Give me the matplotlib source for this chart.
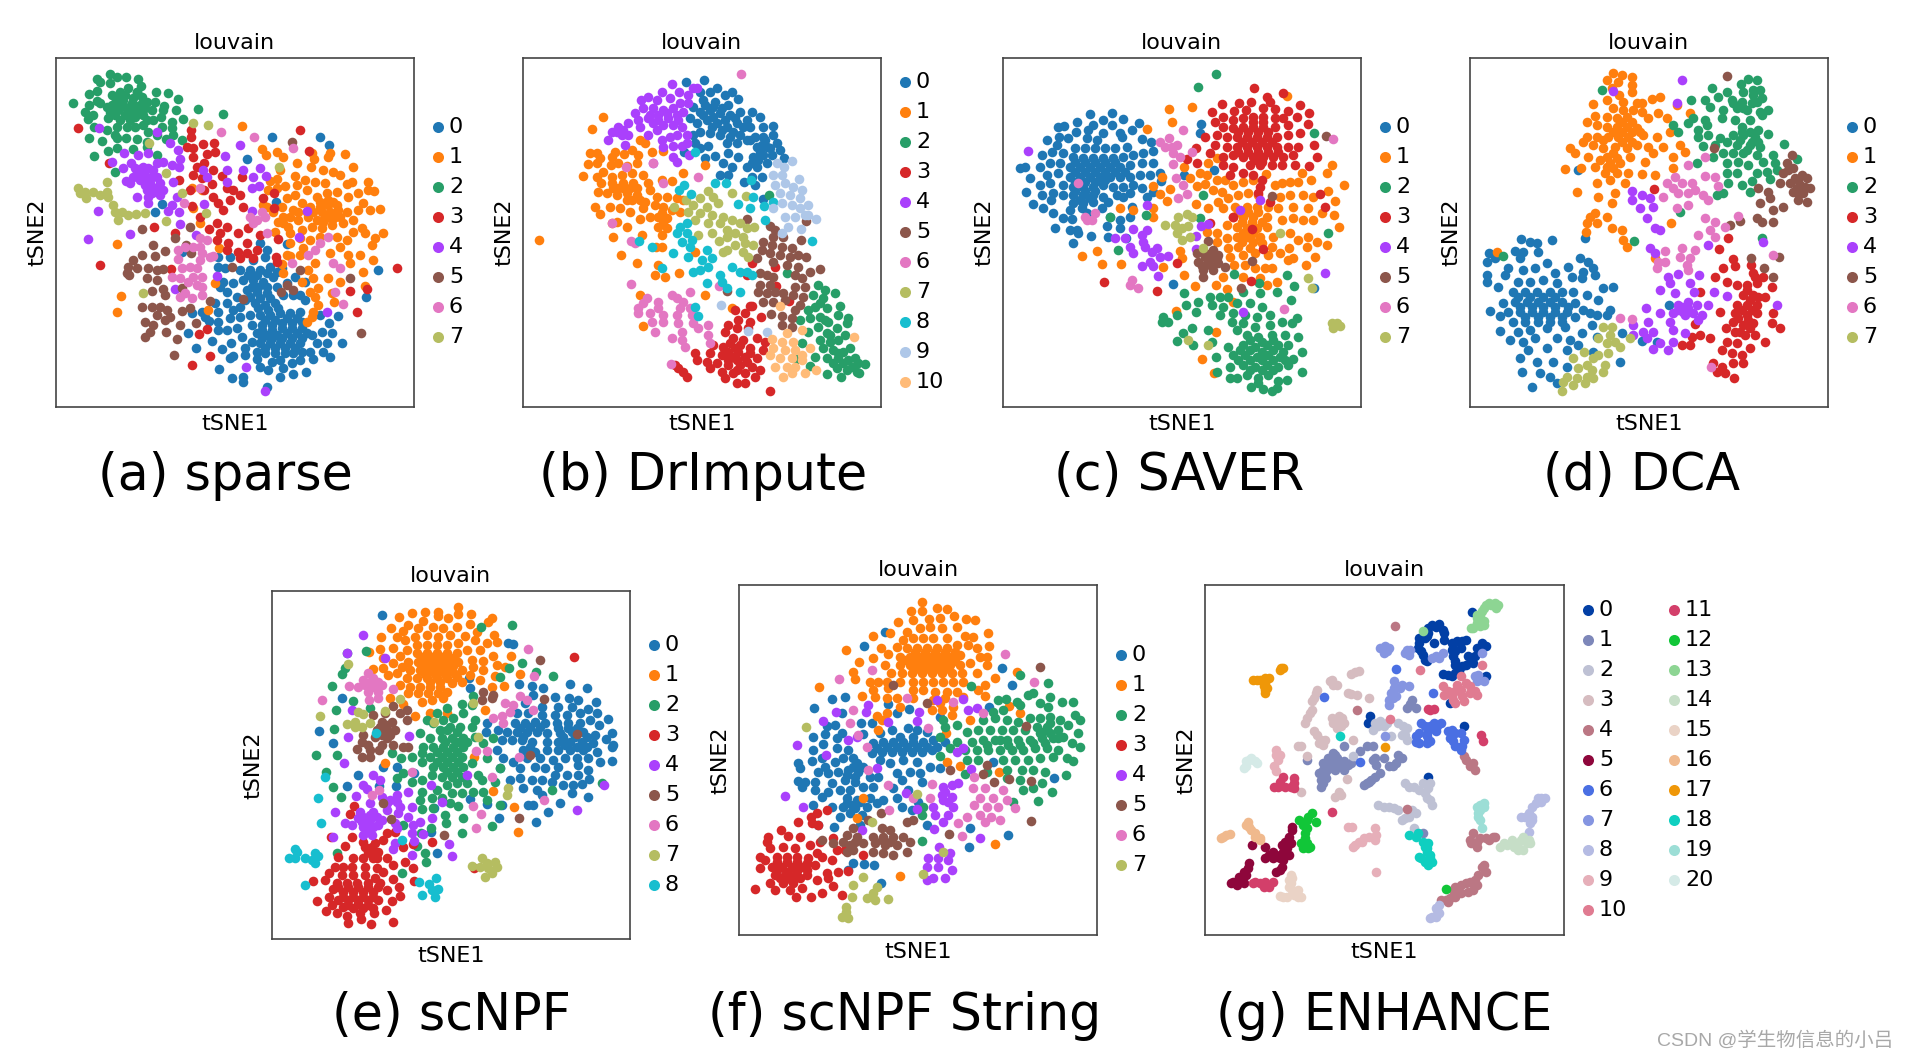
import matplotlib
matplotlib.use("Agg")
import matplotlib.pyplot as plt

W, H = 1907, 1059

vega = ["#1f77b4", "#ff7f0e", "#279e68", "#d62728", "#aa40fc", "#8c564b",
        "#e377c2", "#b5bd61", "#17becf", "#aec7e8", "#ffbb78"]
zeileis = ["#023fa5", "#7d87b9", "#bec1d4", "#d6bcc0", "#bb7784", "#8e063b", "#4a6fe3",
           "#8595e1", "#b5bbe3", "#e6afb9", "#e07b91", "#d33f6a", "#11c638", "#8dd593",
           "#c6dec7", "#ead3c6", "#f0b98d", "#ef9708", "#0fcfc0", "#9cded6", "#d5eae7"]

captions = ["(a) sparse", "(b) DrImpute", "(c) SAVER", "(d) DCA", "(e) scNPF", "(f) scNPF String", "(g) ENHANCE"]

# points, each panel in its own reading scale
A0 = [(815,350),(960,351),(987,375),(742,418),(827,545),(485,551),(466,575),(545,695),(1135,750),(1098,830),(800,1100),(730,1085),(697,1075),(730,1070),(658,1047),(690,1015),(700,1008),(665,988),(637,963),(565,940),(587,985),(627,902),(577,880),(605,875),(615,890),(655,905),(655,930),(645,848),(655,875),(680,850),(700,870),(690,895),(720,860),(720,890),(680,930),(710,925),(692,970),(725,950),(735,985),(735,1005),(770,1018),(780,1040),(815,1027),(840,1020),(850,1043),(875,1030),(900,1020),(918,1055),(880,1062),(840,1070),(805,1050),(938,1018),(968,997),(990,1012),(1025,970),(980,968),(965,935),(995,938),(988,908),(1015,888),(960,885),(935,945),(950,968),(930,997),(905,995),(880,1000),(855,1000),(825,1000),(795,1000),(770,995),(755,965),(780,970),(810,970),(840,970),(870,970),(900,970),(920,940),(890,940),(860,940),(830,945),(800,945),(770,940),(755,915),(785,915),(815,915),(845,910),(875,910),(905,905),(900,875),(870,880),(840,880),(810,885),(780,885),(750,885),(735,840),(765,850),(795,855),(825,850),(850,825),(880,825),(915,840),(900,825),(885,770),(915,785),(860,790),(830,800),(800,820),(770,815),(740,810),(710,830),(680,815),(660,800),(670,785),(700,790),(730,780),(760,780),(790,785),(820,770),(845,745),(810,740),(780,750),(750,750),(720,750),(690,710),(655,712),(655,740),(675,745),(760,720),(780,670),(800,690),(795,710),(862,672)]
A0 += [(785,930),(815,930),(845,925),(875,925),(905,925),(785,955),(815,955),(845,955),(875,955),(905,955),(795,985),(825,985),(855,985),(885,985),(795,900),(825,900),(860,895),(890,895),(755,800),(775,800),(800,800),(750,830),(780,835),(810,835),(775,865),(805,870),(835,865),(745,765),(770,765),(800,760),(830,755)]
A1 = [(727,317),(785,387),(798,405),(830,397),(848,410),(892,428),(935,400),(942,418),(990,400),(985,412),(1035,403),(1060,440),(1000,457),(968,450),(932,442),(885,468),(840,450),(830,478),(810,483),(803,510),(830,505),(855,497),(890,495),(915,480),(945,485),(975,490),(1020,465),(1055,487),(1040,493),(1105,487),(1105,510),(1122,513),(1075,520),(1090,548),(1140,567),(1110,570),(1075,570),(1045,530),(1010,515),(980,520),(950,530),(920,510),(885,525),(860,535),(845,560),(820,575),(850,590),(880,570),(905,550),(930,560),(960,560),(985,555),(1015,570),(1005,590),(975,590),(950,600),(925,590),(895,600),(865,620),(835,605),(825,635),(870,640),(905,630),(935,620),(965,625),(995,615),(1030,610),(1060,600),(1085,625),(1060,635),(1150,640),(1125,655),(1115,675),(1095,640),(1040,660),(1010,650),(1020,680),(1045,705),(1080,705),(1120,720),(1090,755),(990,700),(960,650),(930,660),(900,655),(870,670),(910,685),(860,705),(900,705),(945,730),(925,750),(940,775),(985,775),(1020,785),(1050,730),(1095,797),(955,805),(930,815),(945,830),(995,820),(1003,845),(955,855),(940,875),(935,890),(920,905),(907,785),(847,733),(870,707),(850,760),(790,555),(800,560),(657,685),(645,790),(580,565),(600,610),(575,505),(605,510),(350,672),(363,828),(351,877),(625,870)]
A1 += [(960,545),(985,540),(1000,545),(940,575),(965,575),(990,575),(1010,555),(970,605),(995,600),(1020,590),(1040,575),(920,575),(895,575),(870,590),(850,610)]
A2 = [(218,250),(292,177),(330,162),(379,170),(413,177),(300,185),(268,223),(292,213),(330,190),(352,172),(424,198),(468,217),(504,219),(535,237),(465,245),(492,258),(528,271),(548,298),(515,307),(484,292),(489,270),(593,267),(668,283),(255,277),(266,256),(290,243),(278,285),(265,297),(281,322),(267,355),(307,363),(325,392),(283,407),(350,355),(351,383),(378,355),(398,388),(412,357),(440,365),(470,345),(487,322),(515,325),(519,346),(497,357),(545,360),(443,335),(430,315),(458,300),(350,320),(320,330),(345,250),(320,260),(370,240),(395,265),(420,255),(440,245),(335,225),(360,215),(385,205),(410,215),(300,250),(345,285),(375,285),(405,290),(430,285),(455,270),(325,295),(380,320),(405,320),(345,345),(345,455),(470,405),(440,380),(412,215)]
A2 += [(335,255),(355,260),(375,260),(395,250),(415,270),(435,265),(350,235),(375,225),(400,235),(425,230),(330,275),(355,270),(385,275),(410,275),(440,300),(360,300),(390,300)]
A3 = [(234,325),(327,428),(301,735),(512,748),(462,622),(525,640),(572,330),(572,352),(560,380),(580,385),(610,373),(642,370),(578,410),(620,402),(645,395),(590,440),(612,430),(640,450),(665,467),(725,472),(580,465),(537,480),(605,475),(635,492),(570,510),(612,510),(680,505),(700,510),(720,525),(640,530),(655,550),(670,570),(690,540),(730,560),(650,610),(600,590),(628,628),(660,640),(680,620),(715,640),(745,625),(780,645),(650,660),(685,670),(740,670),(715,695),(740,700),(770,690),(760,715),(720,715),(680,690),(790,535),(823,519),(822,565),(835,657),(828,712),(832,725),(597,942),(620,927),(575,1035),(630,1008),(901,330),(928,393),(1049,814),(1100,807),(1070,875),(1192,743),(575,558)]
A4 = [(296,325),(472,335),(510,370),(535,390),(372,398),(335,425),(370,445),(392,430),(415,405),(445,400),(470,430),(490,425),(515,435),(540,418),(538,442),(430,440),(410,460),(440,470),(460,450),(420,480),(450,490),(480,490),(400,470),(378,482),(390,490),(490,510),(480,525),(440,510),(445,530),(410,530),(445,550),(520,487),(530,530),(515,555),(505,572),(538,575),(293,573),(540,612),(391,642),(265,657),(612,553),(620,470),(610,450),(680,487),(680,450),(720,375),(675,408),(730,450),(780,445),(798,468),(758,472),(778,497),(755,505),(757,573),(587,645),(524,808),(650,768),(795,1112),(737,1042),(920,572),(897,650),(980,875)]
A4 += [(425,445),(445,445),(455,470),(430,465),(415,470),(470,470),(465,505),(455,520),(435,495),(405,445)]
A5 = [(875,367),(427,627),(571,622),(460,675),(427,705),(495,693),(465,708),(400,720),(385,740),(410,745),(380,760),(445,745),(470,750),(490,748),(440,775),(470,780),(388,765),(490,808),(455,812),(495,825),(545,803),(427,862),(455,860),(480,860),(470,885),(500,870),(510,890),(435,907),(460,915),(495,900),(450,935),(435,952),(497,935),(541,915),(530,958),(523,1004),(545,873),(570,865),(587,910),(630,843),(730,838),(697,742),(558,675),(572,700),(842,815),(860,795),(878,810),(900,750),(1049,775),(1083,940),(525,655)]
A6 = [(663,335),(763,352),(880,383),(750,590),(770,600),(795,590),(785,575),(760,610),(800,640),(640,708),(600,655),(620,660),(600,680),(605,700),(630,710),(580,680),(600,720),(570,740),(545,745),(535,718),(590,745),(580,770),(605,770),(565,785),(590,795),(605,800),(540,775),(515,772),(540,830),(555,820),(575,835),(607,825),(600,505),(552,550),(875,730),(960,670),(945,690),(925,705),(985,650),(1000,730),(1020,745),(1006,816),(1030,853),(555,680),(535,690)]
A7 = [(235,505),(240,520),(255,515),(258,535),(280,517),(300,525),(320,515),(325,530),(320,485),(340,555),(345,575),(365,575),(355,600),(385,585),(407,582),(435,580),(498,460),(545,520),(498,603),(580,310),(625,315),(430,820),(838,442),(618,580),(448,368)]

B0 = [(617,186),(672,179),(711,205),(755,215),(775,237),(735,225),(690,215),(660,215),(640,260),(670,240),(705,245),(745,255),(630,295),(660,275),(690,270),(720,280),(750,285),(780,275),(815,275),(840,290),(800,300),(770,310),(740,320),(710,310),(680,300),(650,310),(660,335),(640,345),(690,340),(720,345),(750,350),(780,345),(810,320),(850,320),(878,317),(880,345),(850,350),(825,350),(800,360),(770,370),(740,370),(645,370),(660,385),(685,378),(613,396),(743,400),(775,410),(705,408),(675,413),(730,430),(755,440),(720,465),(745,465),(830,380),(860,380),(890,370),(900,390),(875,405),(850,405),(820,410),(800,440),(830,440),(860,430),(815,470),(845,470),(850,537),(792,487),(825,495),(911,413),(810,360)]
B0 += [(675,255),(700,260),(725,265),(670,285),(700,290),(735,300),(765,295),(790,320),(695,320),(725,330),(760,335),(845,375),(840,395),(835,420),(870,385),(815,430),(855,360)]
B1 = [(368,291),(337,327),(330,400),(350,400),(360,415),(325,433),(350,430),(405,395),(395,410),(433,402),(480,360),(495,370),(455,390),(475,405),(515,395),(550,393),(392,435),(415,430),(440,437),(470,430),(310,467),(350,472),(368,455),(395,470),(425,465),(455,460),(490,465),(363,490),(395,490),(430,490),(460,490),(505,490),(545,480),(575,483),(610,460),(510,510),(354,516),(380,520),(410,525),(440,520),(470,525),(495,545),(530,530),(560,530),(590,535),(610,540),(345,560),(390,562),(420,565),(450,575),(490,565),(360,582),(525,555),(550,560),(575,570),(600,575),(535,590),(560,595),(510,590),(480,597),(410,605),(395,610),(440,620),(535,620),(560,625),(545,645),(400,650),(485,645),(528,680),(545,680),(423,706),(470,730),(533,735),(525,765),(555,770),(598,758),(645,695),(480,826),(675,826),(490,917),(178,660),(675,435),(755,863)]
B1 += [(430,505),(450,505),(470,505),(415,505),(455,540),(480,540),(440,540),(550,610),(545,580),(400,505)]
B2 = [(868,524),(920,760),(1015,795),(1035,810),(1000,825),(1065,820),(1030,835),(1080,858),(1005,860),(1040,865),(1075,885),(985,870),(960,900),(990,895),(1020,890),(1105,895),(1100,910),(1045,905),(1015,920),(985,935),(1040,940),(1070,925),(1095,945),(965,970),(1020,960),(1050,965),(1075,960),(1110,985),(1030,985),(1060,990),(1090,995),(1125,1015),(1005,1012),(1040,1015),(1075,1015),(1105,1020),(1135,1030),(1155,1032),(950,1018),(990,1038),(1070,1045),(1100,1050),(1130,1055),(1042,1062),(1082,1070),(1137,1060)]
B2 += [(1075,1000),(1060,1030),(1090,1030),(1115,1040),(1050,945),(1035,900),(1020,850)]
B3 = [(815,857),(843,890),(795,880),(765,870),(775,900),(810,905),(745,915),(770,925),(805,925),(735,935),(760,955),(790,960),(830,955),(855,965),(700,975),(730,980),(765,985),(810,985),(850,990),(645,998),(690,1000),(725,1005),(760,1010),(795,1010),(830,1015),(650,1020),(680,1025),(710,1030),(745,1035),(780,1035),(815,1040),(840,1050),(690,1045),(725,1055),(760,1060),(795,1060),(825,1070),(735,1075),(770,1090),(795,1090),(595,1043),(610,1055),(620,1070),(870,1112),(815,730),(885,742),(800,765),(887,798),(926,843),(810,857),(585,1035)]
B3 += [(745,1020),(770,1020),(800,1025),(745,995),(775,995),(750,970),(780,975),(810,1000),(770,1050)]
B4 = [(575,192),(545,215),(597,215),(640,205),(625,225),(650,205),(505,230),(483,240),(530,240),(570,235),(600,250),(465,278),(490,265),(520,265),(550,270),(580,265),(610,275),(625,250),(445,308),(475,300),(505,295),(535,300),(565,295),(595,300),(605,320),(415,320),(395,335),(425,345),(385,360),(445,345),(505,345),(480,320),(530,330),(570,350),(590,345),(620,345),(545,360),(550,380),(580,378),(605,378),(435,375),(620,370),(580,410),(590,425),(520,430),(628,405)]
B4 += [(510,285),(535,285),(560,280),(590,285),(520,310),(550,315),(580,315),(410,335),(430,330)]
B5 = [(800,597),(978,604),(870,617),(885,630),(880,650),(910,650),(963,661),(850,665),(875,675),(905,680),(935,685),(845,690),(870,700),(900,705),(930,710),(955,705),(978,712),(830,715),(880,725),(920,735),(1019,747),(840,760),(860,765),(880,770),(955,740),(990,757),(945,765),(965,775),(840,795),(870,795),(885,815),(910,820),(945,800),(975,800),(940,825),(970,830),(860,820),(835,815),(850,845),(880,845),(915,840),(960,855),(945,870),(873,883),(905,887),(935,893),(905,915),(935,920),(741,812)]
B6 = [(783,161),(437,440),(520,428),(653,470),(550,490),(397,609),(453,664),(465,670),(453,791),(717,798),(630,815),(575,825),(500,835),(535,845),(590,835),(610,845),(490,850),(475,865),(535,865),(600,865),(630,865),(475,880),(510,880),(550,885),(590,885),(635,885),(515,905),(550,905),(595,910),(640,910),(525,935),(685,915),(655,925),(605,935),(685,945),(575,955),(605,960),(690,968),(615,980),(572,1032)]
B7 = [(582,560),(618,540),(685,513),(757,520),(797,528),(660,535),(700,530),(640,555),(680,560),(715,550),(625,575),(660,580),(695,585),(730,590),(645,600),(685,610),(720,610),(755,600),(780,610),(800,625),(822,622),(740,630),(765,640),(790,650),(653,645),(695,640),(718,663),(740,650),(765,675),(795,670),(820,675),(740,690),(730,695),(790,695),(803,710)]
B8 = [(706,488),(737,490),(613,495),(597,510),(632,522),(820,530),(880,545),(775,553),(810,565),(852,558),(855,600),(600,620),(620,610),(590,640),(620,640),(605,665),(635,660),(630,680),(477,662),(515,680),(580,700),(625,710),(680,690),(665,720),(695,715),(685,740),(755,740),(780,755),(800,755),(815,765),(640,755),(660,750),(545,745),(720,765),(680,790),(725,785),(742,805),(780,817),(645,860),(655,888),(995,663),(645,395),(812,480)]
B9 = [(890,428),(912,440),(936,422),(880,465),(905,465),(958,478),(885,495),(915,490),(940,500),(965,510),(900,520),(930,525),(960,535),(985,555),(880,565),(905,550),(935,555),(960,565),(985,585),(915,590),(945,590),(1009,598),(925,622),(963,627),(905,640),(722,855),(862,935),(805,934),(975,585)]
B10 = [(920,940),(875,958),(905,965),(940,965),(880,985),(915,990),(945,990),(990,985),(965,1005),(870,1005),(900,1015),(935,1015),(965,1020),(885,1040),(920,1040),(945,1040),(910,1070),(935,1060),(1008,1051),(975,1060),(1122,950),(967,930),(901,858)]

C0 = [(389,282),(455,278),(350,305),(428,300),(490,297),(295,322),(313,317),(400,315),(455,315),(537,310),(348,337),(385,330),(430,340),(480,340),(515,330),(298,350),(325,355),(380,355),(410,360),(485,350),(545,358),(260,360),(290,375),(345,385),(375,385),(405,385),(435,385),(465,385),(500,380),(573,366),(245,405),(275,395),(310,400),(340,410),(370,415),(400,415),(430,415),(460,415),(490,410),(520,405),(550,400),(580,392),(180,443),(195,441),(240,440),(270,430),(300,430),(330,440),(360,440),(390,440),(420,440),(450,440),(480,440),(510,435),(545,430),(580,430),(210,475),(260,465),(295,460),(330,470),(360,470),(390,470),(420,470),(450,470),(480,470),(510,470),(540,465),(570,465),(600,460),(240,495),(270,490),(310,495),(340,500),(370,500),(400,500),(430,495),(460,500),(490,500),(520,495),(545,505),(603,482),(199,516),(245,525),(280,520),(310,525),(340,525),(370,525),(400,525),(430,530),(470,525),(510,520),(580,517),(272,540),(218,552),(340,550),(370,550),(400,545),(445,545),(490,530),(560,530),(250,565),(280,580),(330,570),(365,565),(380,580),(425,565),(515,560),(310,595),(337,598),(450,590),(510,592),(480,600),(440,617),(285,625),(330,630),(350,630),(480,625),(355,640),(393,648),(443,650),(497,655),(338,669),(722,311),(721,339),(672,466),(762,449),(640,792),(1063,805)]
C0 += [(345,425),(375,425),(405,425),(435,425),(465,425),(345,455),(375,455),(405,455),(435,455),(465,455),(495,455),(345,485),(375,485),(405,485),(435,480),(345,512),(375,512),(405,512),(360,540),(390,535)]
C1 = [(561,328),(628,267),(696,262),(637,305),(982,228),(605,470),(580,497),(630,507),(600,522),(622,542),(580,565),(578,592),(672,441),(690,475),(720,458),(742,465),(745,428),(771,413),(710,498),(735,493),(770,480),(795,480),(917,463),(760,510),(785,515),(820,495),(850,485),(880,480),(1115,434),(1100,460),(1052,480),(1027,460),(990,485),(1015,485),(1153,495),(945,495),(965,490),(1105,512),(775,545),(805,535),(835,525),(865,520),(895,525),(960,530),(990,525),(1030,525),(1060,530),(1125,543),(707,551),(745,565),(790,565),(825,560),(860,560),(890,560),(925,560),(955,565),(1000,560),(1045,565),(1085,580),(1123,586),(820,590),(850,590),(880,590),(920,590),(965,600),(1000,595),(1030,600),(1060,600),(1138,621),(740,635),(770,640),(800,615),(830,620),(860,625),(890,625),(920,620),(990,640),(1015,660),(1045,650),(1070,665),(1100,675),(770,665),(800,655),(830,650),(865,650),(900,650),(940,650),(1040,680),(660,692),(805,685),(835,680),(870,685),(905,670),(935,680),(987,685),(1065,710),(665,715),(810,710),(850,705),(885,700),(925,705),(960,700),(1000,715),(985,720),(822,735),(855,735),(885,745),(915,745),(935,745),(1037,735),(672,764),(790,772),(850,772),(900,775),(952,787),(705,798),(767,795),(802,808),(920,795),(610,740),(410,692),(367,709),(425,731),(484,733),(480,565),(518,569),(647,872),(769,935),(727,1017),(763,1058),(820,845)]
C1 += [(835,575),(865,575),(895,575),(845,605),(875,605),(905,605),(850,640),(880,640),(845,665),(880,665)]
C2 = [(767,161),(714,200),(1063,340),(730,525),(557,586),(450,590),(720,595),(1105,640),(473,690),(822,762),(897,788),(982,764),(1003,797),(671,820),(950,817),(993,840),(750,830),(780,830),(805,830),(850,815),(900,818),(757,855),(790,860),(715,845),(678,855),(707,875),(780,885),(830,850),(870,850),(905,860),(820,880),(855,885),(890,890),(930,885),(1010,895),(995,910),(610,890),(650,885),(605,905),(625,905),(815,905),(850,910),(885,920),(930,915),(965,905),(695,925),(670,940),(745,930),(830,930),(860,945),(895,950),(935,945),(975,945),(1015,950),(652,962),(700,975),(755,965),(805,980),(850,975),(885,980),(920,975),(955,975),(985,975),(1025,995),(820,1005),(855,1005),(890,1010),(925,1005),(960,1010),(1000,1018),(767,1012),(810,1040),(850,1035),(885,1040),(920,1035),(955,1040),(985,1035),(1025,1055),(770,1057),(810,1075),(830,1073),(860,1065),(895,1075),(925,1065),(955,1083),(980,1080),(872,1100),(910,1107),(950,1105),(935,1113),(895,1088)]
C2 += [(840,990),(870,990),(905,995),(940,990),(970,995),(835,1020),(870,1020),(905,1020),(940,1020),(975,1020),(870,1050),(905,1050),(940,1050),(870,960),(905,965),(940,960)]
C3 = [(883,205),(921,232),(970,218),(930,245),(787,253),(1020,255),(755,275),(838,250),(872,247),(910,265),(945,268),(985,272),(823,272),(857,270),(1047,280),(790,290),(820,300),(850,295),(880,290),(910,290),(945,295),(970,295),(1010,290),(765,305),(1045,313),(790,320),(820,325),(850,320),(880,320),(910,320),(945,320),(985,315),(1020,340),(735,352),(770,345),(800,350),(830,350),(860,350),(890,350),(920,350),(950,350),(985,345),(1063,375),(765,375),(800,380),(830,380),(860,380),(890,380),(920,380),(950,380),(985,380),(1015,380),(708,385),(750,400),(790,410),(820,405),(850,410),(880,410),(910,410),(940,410),(970,410),(1000,405),(1072,412),(712,428),(790,435),(820,440),(870,435),(900,435),(935,435),(965,435),(1005,435),(1047,437),(680,418),(810,465),(850,460),(880,465),(905,480),(900,500),(895,520),(930,545),(1080,521),(1095,561),(820,590),(750,608),(875,627),(910,688),(650,730),(432,787),(592,813),(873,782)]
C3 += [(835,335),(865,335),(895,335),(925,335),(845,365),(875,365),(905,365),(935,365),(835,395),(865,395),(895,395),(925,395),(955,395),(905,425),(885,420),(880,305),(910,305)]
C4 = [(205,394),(560,555),(840,570),(745,612),(722,617),(707,648),(520,628),(560,630),(545,645),(465,655),(495,655),(550,665),(510,680),(520,700),(555,680),(590,685),(575,695),(625,708),(600,712),(570,725),(545,738),(580,738),(594,767),(707,687),(850,877),(1096,760),(900,540)]
C5 = [(743,662),(760,690),(710,700),(735,700),(775,705),(715,725),(745,725),(775,730),(795,740),(730,750),(760,750),(730,772),(935,528),(877,723),(843,805),(1097,348),(735,710),(755,710),(750,735),(725,738),(770,715)]
C6 = [(600,365),(627,355),(670,330),(615,380),(635,380),(650,375),(640,400),(660,410),(640,432),(695,395),(648,473),(668,495),(682,523),(655,535),(355,489),(375,590),(405,580),(395,600),(380,600),(517,780),(510,795),(535,805),(972,868),(1120,358)]
C7 = [(680,582),(655,590),(695,590),(615,615),(645,615),(665,625),(685,618),(650,640),(690,650),(665,660),(728,683),(1045,774),(1057,805),(743,974),(1115,910),(1130,910),(1120,925),(1140,918),(960,640),(685,960)]

D0 = [(335,660),(243,657),(270,665),(290,670),(225,692),(250,695),(295,695),(148,700),(165,715),(140,727),(240,715),(205,745),(320,730),(420,715),(445,725),(385,740),(460,745),(140,765),(195,765),(250,750),(285,745),(345,760),(430,755),(465,765),(395,770),(140,785),(175,800),(235,785),(270,785),(310,780),(350,790),(425,775),(490,805),(520,800),(220,815),(255,815),(290,815),(330,815),(365,815),(400,815),(440,825),(475,840),(190,850),(225,845),(260,845),(295,845),(330,845),(365,845),(405,850),(150,873),(205,875),(240,875),(275,875),(310,875),(345,875),(380,875),(430,870),(510,870),(180,888),(220,905),(255,905),(295,905),(330,905),(365,905),(405,890),(450,880),(470,885),(500,885),(180,932),(235,935),(270,930),(320,925),(375,920),(425,940),(455,915),(210,960),(250,965),(285,955),(350,955),(390,960),(470,950),(547,939),(265,990),(320,985),(380,990),(460,995),(415,975),(240,1015),(290,1025),(340,1025),(380,1040),(245,1055),(300,1060),(330,1070),(350,1090),(276,1100),(541,1027),(605,962),(650,965),(687,855),(415,451),(435,655)]
D0 += [(270,830),(310,830),(345,830),(240,860),(275,860),(310,860),(345,860),(385,860),(255,890),(295,890),(330,890),(365,890),(235,830)]
D1 = [(520,160),(545,165),(575,170),(500,180),(535,185),(575,195),(515,205),(538,225),(548,245),(575,217),(590,250),(605,250),(660,230),(635,237),(460,253),(500,240),(520,265),(550,270),(580,270),(605,275),(625,295),(655,280),(680,295),(465,287),(500,290),(530,295),(560,290),(440,305),(470,315),(500,320),(530,320),(560,320),(590,325),(610,345),(650,352),(690,335),(440,350),(470,350),(505,350),(535,350),(565,350),(590,375),(430,365),(460,375),(490,360),(525,380),(560,385),(625,380),(670,380),(720,375),(390,385),(405,400),(445,410),(490,385),(520,400),(640,400),(735,395),(700,410),(480,420),(510,430),(540,430),(570,410),(615,425),(375,448),(422,445),(465,440),(495,460),(530,460),(565,460),(605,462),(645,464),(700,445),(470,490),(510,480),(555,490),(410,515),(525,520),(475,530),(515,548),(465,580),(450,590),(500,590),(470,610),(440,610),(515,625),(545,630),(437,635),(550,660),(560,680),(692,610),(170,697),(645,715),(750,280),(710,255)]
D1 += [(545,305),(575,305),(545,335),(575,335),(600,335),(520,335),(545,365),(575,365),(500,410),(530,415),(500,440),(520,445)]
D2 = [(923,177),(950,180),(903,193),(815,203),(860,215),(960,210),(910,215),(940,225),(835,232),(875,240),(965,235),(795,240),(753,240),(905,245),(935,250),(810,260),(850,270),(890,265),(920,270),(985,270),(960,275),(845,295),(760,295),(795,300),(885,300),(930,300),(965,285),(745,310),(700,315),(715,335),(775,330),(800,315),(905,320),(955,330),(775,350),(805,345),(840,355),(880,345),(910,345),(945,350),(985,343),(790,378),(825,375),(860,365),(890,375),(930,375),(960,380),(1033,372),(850,400),(880,400),(910,400),(950,405),(1000,405),(1071,418),(770,428),(820,410),(860,430),(895,425),(925,435),(970,425),(1005,430),(860,460),(890,460),(950,460),(980,455),(1010,450),(865,490),(905,495),(935,482),(990,478),(830,525),(850,520),(930,515),(485,210),(583,662),(720,575),(965,653),(188,707)]
D2 += [(905,335),(930,335),(935,365),(955,365),(900,360),(920,390),(880,250),(910,265),(940,210),(950,245)]
D3 = [(643,507),(863,655),(838,687),(880,718),(933,735),(885,738),(850,745),(825,770),(860,785),(940,760),(970,770),(890,795),(920,795),(950,790),(780,817),(995,800),(910,825),(940,825),(975,830),(890,855),(920,855),(950,855),(840,875),(885,880),(920,885),(950,880),(1000,880),(765,912),(880,905),(910,915),(940,910),(995,910),(1020,925),(857,925),(885,935),(915,945),(945,945),(975,965),(755,950),(780,945),(810,955),(725,975),(750,975),(860,965),(890,970),(930,985),(845,990),(875,1000),(905,1005),(820,1030),(845,1040),(880,1030),(910,1030),(830,1055),(855,1060),(882,1075)]
D3 += [(930,840),(905,870),(935,870),(895,895),(925,900),(955,830),(900,935),(930,925),(945,770),(920,810)]
D4 = [(520,214),(727,181),(711,250),(577,512),(575,540),(605,525),(630,535),(600,565),(640,560),(620,595),(645,625),(660,630),(803,675),(970,667),(630,685),(645,700),(715,762),(685,770),(778,765),(690,790),(750,790),(660,810),(705,820),(762,815),(823,817),(860,828),(715,855),(745,845),(770,855),(805,855),(730,875),(700,880),(760,880),(785,885),(617,864),(660,880),(690,905),(775,900),(625,905),(580,915),(610,935),(640,935),(700,930),(735,940),(580,945),(620,955),(660,970),(700,965),(640,988),(685,990),(1010,855),(725,860),(745,865),(715,870),(735,885)]
D5 = [(862,168),(823,385),(1055,405),(1040,430),(1060,445),(1085,465),(1030,460),(1065,475),(1100,475),(1050,490),(1080,495),(1110,505),(1020,490),(1060,515),(1090,520),(1075,540),(1100,545),(955,505),(985,515),(990,535),(960,550),(1030,560),(1000,570),(950,595),(965,605),(1000,607),(900,603),(870,615),(933,713),(1018,712),(973,743),(1000,770),(1075,480),(1095,500),(1070,505),(1045,450),(1075,520)]
D6 = [(795,411),(745,435),(705,470),(680,490),(700,505),(725,490),(755,490),(765,510),(795,467),(825,470),(833,497),(715,520),(745,520),(670,530),(790,525),(805,540),(745,555),(710,563),(795,595),(825,605),(810,630),(775,645),(825,650),(855,622),(893,587),(725,685),(765,690),(750,715),(720,710),(740,735),(675,693),(655,725),(650,745),(675,725),(745,750),(540,893),(575,898),(1000,706),(812,1040)]
D7 = [(488,920),(515,920),(510,945),(475,955),(525,965),(500,970),(540,980),(505,1000),(475,1005),(432,995),(460,1015),(398,1013),(495,1035),(440,1035),(415,1045),(490,1055),(455,1050),(380,1070),(410,1075),(440,1070),(460,1073),(370,1085),(400,1095),(435,1090),(366,1112),(570,955)]

E0 = [(456,194),(835,280),(848,283),(718,385),(720,413),(335,443),(267,544),(308,580),(866,402),(905,408),(938,415),(1020,403),(1071,413),(975,440),(1018,445),(1045,450),(1097,455),(910,435),(885,460),(935,470),(985,470),(1025,470),(1073,477),(1102,488),(860,490),(895,490),(935,495),(975,495),(1010,495),(1050,490),(1135,507),(770,520),(805,540),(855,520),(885,520),(915,515),(945,520),(980,520),(1015,520),(1050,520),(1080,510),(1108,525),(768,547),(830,545),(860,545),(890,545),(920,545),(950,550),(990,550),(1025,545),(1060,545),(1095,555),(1145,550),(815,570),(845,570),(875,570),(905,575),(950,575),(985,575),(1020,575),(1055,575),(1090,580),(1127,568),(1150,585),(800,600),(880,600),(915,605),(950,600),(985,600),(1020,600),(1060,600),(1100,605),(1145,590),(818,625),(850,635),(890,625),(930,625),(970,630),(1005,625),(1040,625),(1075,625),(1110,635),(1147,633),(810,655),(870,655),(915,650),(945,655),(985,650),(1045,645),(1075,660),(840,690),(870,685),(905,690),(935,690),(975,675),(1010,675),(1045,675),(878,715),(920,720),(965,695),(1000,705),(1030,705),(1055,703),(1077,688),(935,735),(1025,730),(910,765),(990,760),(1075,742),(815,765),(770,762),(720,748),(808,805),(895,765),(955,785),(917,816),(458,652),(501,651),(552,668),(385,676),(351,708),(447,708),(498,708),(613,775),(603,845),(620,908)]
E0 += [(985,535),(1015,535),(1040,535),(1000,560),(1035,560),(1005,585),(1040,590),(900,530),(930,530),(870,535),(880,560),(900,590),(1070,560),(1070,590)]
E1 = [(684,170),(547,190),(585,187),(625,185),(685,192),(723,192),(508,200),(625,197),(655,203),(785,205),(775,217),(580,212),(720,223),(535,225),(483,235),(565,235),(610,230),(640,235),(680,230),(740,245),(520,243),(452,262),(500,260),(555,260),(590,255),(625,260),(660,255),(705,258),(792,255),(735,270),(770,280),(490,293),(525,270),(560,285),(590,285),(620,285),(650,285),(685,280),(800,275),(450,296),(416,307),(530,300),(560,310),(590,310),(620,310),(650,310),(680,310),(710,300),(750,300),(790,317),(843,317),(510,317),(535,335),(565,335),(595,335),(625,335),(655,335),(685,335),(725,330),(460,323),(490,340),(515,350),(540,360),(570,360),(600,360),(630,360),(660,360),(695,360),(730,350),(760,332),(800,345),(825,352),(430,358),(460,353),(500,370),(530,385),(560,385),(590,385),(620,385),(650,385),(680,380),(720,375),(760,360),(795,378),(475,375),(510,405),(540,410),(570,410),(600,410),(630,410),(665,400),(695,395),(750,390),(787,410),(822,408),(535,430),(565,430),(595,430),(625,430),(650,425),(480,443),(518,463),(575,455),(605,450),(640,445),(765,481),(600,488),(650,490),(555,498),(870,373),(853,770),(863,845),(733,622),(464,640),(789,723)]
E1 += [(575,320),(605,320),(635,320),(665,325),(580,347),(610,347),(640,347),(670,347),(585,372),(615,372),(645,372),(675,372),(600,397),(630,397)]
E2 = [(846,224),(752,232),(350,308),(345,355),(337,372),(409,302),(305,408),(370,453),(318,479),(313,536),(420,473),(320,615),(258,615),(288,665),(837,355),(810,382),(918,365),(970,379),(875,338),(308,712),(333,742),(730,437),(695,463),(650,475),(620,490),(590,510),(725,465),(700,490),(670,505),(640,510),(610,520),(735,510),(570,550),(600,565),(630,540),(660,530),(690,530),(725,530),(635,565),(665,565),(700,565),(735,560),(580,590),(610,590),(640,590),(670,590),(700,590),(760,580),(790,565),(485,608),(513,623),(545,620),(575,610),(600,620),(635,620),(665,620),(695,620),(725,640),(770,625),(575,635),(610,650),(640,650),(670,650),(700,650),(810,655),(520,670),(500,685),(545,697),(575,690),(605,675),(635,680),(665,680),(695,680),(745,675),(755,690),(795,695),(575,725),(620,720),(650,705),(680,700),(710,700),(730,725),(760,725),(570,750),(605,745),(635,745),(667,730),(695,730),(770,750),(660,760),(685,768),(575,778),(610,775),(810,765),(700,805),(645,795),(648,820),(787,827),(697,850),(603,835),(520,826),(573,850),(585,908),(587,937),(516,968),(320,908),(965,720),(1117,698),(560,888)]
E2 += [(650,540),(680,545),(645,575),(680,575),(710,575),(620,605),(650,605),(680,605),(620,635),(650,635),(685,635),(650,665),(680,665)]
E3 = [(1032,321),(372,769),(361,792),(303,862),(365,860),(470,850),(495,845),(605,877),(548,883),(345,888),(400,875),(435,880),(460,870),(520,892),(415,905),(445,905),(370,925),(325,922),(400,925),(430,925),(470,925),(525,935),(340,950),(315,950),(365,950),(405,950),(440,955),(490,945),(550,955),(298,968),(335,975),(370,975),(405,975),(460,965),(435,985),(490,988),(250,993),(285,990),(320,1000),(350,1000),(380,1000),(415,1000),(450,1000),(553,992),(310,1018),(340,1025),(370,1025),(400,1025),(430,1025),(470,1020),(508,1010),(297,1040),(325,1050),(355,1050),(385,1050),(415,1050),(445,1050),(510,1038),(260,1052),(305,1065),(340,1070),(370,1075),(400,1075),(430,1075),(487,1052),(467,1080),(288,1083),(320,1090),(350,1098),(390,1090),(432,1088),(355,1118),(392,1108),(422,1121),(490,1117),(733,953)]
E3 += [(325,1012),(355,1012),(385,1012),(415,1012),(445,1012),(340,1040),(370,1040),(400,1040),(430,1040),(355,1065),(385,1062),(415,1065),(420,910),(440,925),(425,890),(405,890)]
E4 = [(398,254),(465,325),(350,308),(365,480),(353,561),(536,558),(343,640),(430,675),(450,690),(400,705),(410,718),(378,737),(500,735),(535,725),(455,742),(480,750),(420,760),(510,770),(545,770),(315,787),(390,785),(430,785),(470,780),(505,790),(385,805),(420,810),(455,810),(495,820),(535,800),(344,820),(365,825),(400,830),(430,830),(570,815),(550,825),(310,862),(400,855),(425,855),(500,835),(545,850),(580,852),(605,805),(495,880),(490,898),(547,915),(658,881),(665,918),(712,675),(1040,779),(1123,704),(604,705),(635,755),(552,873)]
E4 += [(400,800),(420,795),(440,800),(400,820),(420,825),(445,825),(410,845),(395,815),(470,760),(500,755)]
E5 = [(930,329),(942,447),(760,425),(790,435),(755,450),(785,445),(490,468),(530,480),(430,495),(465,490),(510,490),(530,510),(455,515),(485,515),(440,540),(470,540),(495,540),(400,555),(435,560),(470,565),(395,575),(415,585),(455,585),(490,585),(520,590),(380,597),(420,600),(447,600),(535,590),(395,620),(420,622),(1040,553),(900,615),(460,758),(483,808),(643,856),(868,805),(470,525),(450,530),(480,555),(455,555)]
E6 = [(415,370),(430,385),(445,395),(400,390),(385,410),(405,405),(430,410),(455,405),(415,425),(445,425),(358,408),(490,418),(445,445),(275,450),(417,450),(893,298),(913,378),(870,438),(825,460),(850,465),(890,450),(840,487),(790,505),(815,498),(820,520),(910,480),(770,603),(738,602),(868,622),(787,680),(425,735),(447,720),(942,750),(728,767),(752,793),(737,834),(545,665),(420,395),(440,410)]
E7 = [(353,343),(270,499),(510,447),(385,487),(400,493),(465,482),(350,522),(375,515),(375,530),(395,530),(420,520),(730,460),(612,517),(745,560),(835,715),(830,735),(725,948),(755,925),(770,940),(795,935),(750,950),(775,955),(800,950),(765,980),(785,968)]
E8 = [(195,897),(200,907),(178,925),(195,925),(225,925),(255,910),(265,917),(245,930),(255,940),(437,550),(285,680),(265,743),(274,818),(517,870),(226,1006),(567,996),(617,984),(597,1003),(605,1020),(625,1016),(575,1036),(615,1040)]

F0 = [(555,245),(492,287),(907,353),(935,405),(342,473),(397,448),(435,440),(563,463),(425,490),(628,478),(590,490),(405,525),(483,518),(515,520),(868,470),(720,500),(380,527),(425,548),(340,560),(375,552),(490,553),(540,550),(575,540),(625,535),(650,540),(680,545),(410,565),(340,600),(370,582),(520,580),(550,575),(580,575),(610,575),(640,575),(670,575),(700,570),(735,575),(410,595),(365,625),(295,640),(335,632),(445,600),(515,610),(545,605),(575,605),(605,605),(635,605),(665,605),(695,600),(300,655),(375,650),(405,635),(430,625),(460,625),(490,650),(540,630),(570,640),(610,630),(650,635),(690,650),(720,655),(355,665),(385,670),(415,665),(445,660),(475,665),(510,680),(590,670),(630,665),(660,670),(293,692),(315,695),(345,695),(395,700),(435,690),(465,695),(535,680),(605,690),(305,712),(345,720),(385,725),(420,720),(450,720),(490,710),(520,710),(580,715),(625,720),(665,695),(365,742),(440,745),(470,750),(510,745),(550,750),(590,743),(655,755),(340,765),(395,770),(430,770),(465,775),(500,770),(530,760),(635,780),(605,772),(420,800),(450,790),(485,795),(355,825),(403,830),(480,825),(680,825),(810,835),(923,855),(807,890),(458,938),(493,942),(523,945),(445,960),(543,998),(1063,685),(880,635)]
F0 += [(560,590),(590,590),(620,590),(650,590),(680,590),(530,595),(710,590),(600,560),(640,560),(460,650),(470,640),(440,675),(465,680),(455,765),(480,755),(440,760)]
F1 = [(667,155),(633,182),(665,182),(711,175),(740,177),(595,217),(640,210),(688,207),(720,205),(763,198),(799,208),(825,210),(570,248),(620,245),(660,235),(690,230),(725,235),(770,230),(865,248),(520,257),(610,270),(640,265),(670,265),(700,265),(740,265),(795,258),(820,260),(438,299),(543,295),(590,290),(620,295),(650,295),(680,295),(710,295),(740,295),(770,285),(805,285),(867,288),(565,313),(600,320),(630,320),(660,320),(690,320),(720,320),(750,320),(780,315),(830,295),(840,320),(862,322),(520,325),(478,335),(555,345),(600,345),(630,345),(660,345),(690,345),(720,345),(750,345),(780,345),(810,340),(860,345),(460,365),(572,370),(605,370),(635,370),(665,370),(695,370),(725,370),(755,370),(785,370),(830,370),(465,387),(358,410),(510,395),(535,395),(560,395),(600,395),(640,395),(670,395),(700,395),(730,395),(760,395),(790,395),(885,385),(855,405),(520,420),(565,415),(640,420),(670,420),(705,425),(740,425),(770,425),(835,420),(485,438),(525,440),(560,445),(590,445),(640,445),(700,450),(735,445),(790,440),(855,437),(600,470),(720,460),(760,470),(530,497),(560,490),(545,510),(695,480),(725,480),(755,495),(810,510),(535,540),(950,367),(928,467),(960,488),(738,548),(780,648),(742,636),(898,666),(490,745),(472,805),(885,882),(600,977)]
F1 += [(645,305),(675,305),(705,305),(735,305),(765,305),(615,330),(645,332),(675,332),(705,332),(735,332),(765,332),(645,358),(675,358),(705,358),(735,358)]
F2 = [(960,375),(1043,400),(813,408),(1000,430),(985,436),(918,448),(893,450),(950,455),(1050,440),(1085,455),(1118,455),(1020,460),(1045,470),(880,485),(910,480),(960,465),(1125,495),(1140,510),(730,510),(770,525),(850,510),(885,505),(920,510),(955,515),(990,505),(1020,505),(1050,500),(1080,510),(1105,525),(720,560),(735,530),(800,545),(835,540),(870,540),(905,540),(940,540),(975,540),(1010,530),(1040,530),(1075,540),(1135,550),(770,575),(815,575),(850,570),(885,570),(920,570),(955,570),(990,570),(1025,565),(1060,565),(1090,560),(1115,580),(1140,590),(750,595),(795,600),(830,600),(865,600),(900,600),(935,600),(970,600),(1005,595),(1040,595),(1075,600),(720,618),(800,630),(835,630),(910,630),(945,630),(985,630),(1020,625),(1060,620),(1100,625),(1120,632),(795,672),(860,665),(920,660),(965,660),(1000,660),(1035,665),(1098,675),(920,685),(960,690),(1025,700),(968,720),(1055,727),(1000,715),(1013,753),(940,757),(670,770),(665,795),(667,872)]
F2 += [(900,570),(1020,550),(1050,550),(1075,565),(1035,580),(1000,580),(925,585),(960,585),(860,585),(1050,520),(1025,545)]
F3 = [(380,780),(352,790),(333,800),(295,817),(335,820),(355,825),(243,840),(205,860),(265,858),(200,875),(300,860),(330,885),(360,875),(400,865),(210,895),(180,922),(250,890),(285,895),(350,910),(410,900),(435,900),(490,915),(195,930),(230,920),(260,920),(290,920),(325,925),(365,920),(395,930),(180,953),(215,950),(245,950),(275,950),(305,950),(345,945),(225,975),(255,975),(285,975),(320,975),(380,970),(415,965),(445,962),(210,1000),(250,1000),(280,1000),(350,990),(385,985),(165,1016),(225,1020),(270,1020),(305,1015),(365,1030),(400,1007),(287,1042),(334,1040),(425,1035)]
F3 += [(230,935),(260,935),(290,935),(320,940),(230,960),(260,965),(290,962),(320,960),(240,985),(270,988),(300,985)]
F4 = [(503,465),(408,487),(497,486),(658,487),(368,513),(565,515),(652,514),(805,480),(830,473),(788,448),(710,450),(292,586),(445,570),(470,560),(378,615),(770,605),(790,595),(812,658),(530,655),(255,739),(308,772),(617,728),(730,710),(775,700),(755,705),(725,735),(755,740),(700,770),(730,750),(760,770),(745,795),(705,795),(730,815),(650,778),(703,838),(840,864),(487,840),(716,892),(750,910),(685,925),(715,925),(745,930),(680,950),(715,950),(755,960),(735,985),(700,985),(680,990),(745,755),(735,725)]
F5 = [(1020,352),(580,404),(682,460),(978,527),(860,645),(750,660),(850,673),(882,697),(927,686),(993,693),(542,790),(505,810),(622,815),(640,810),(460,835),(545,835),(570,840),(440,855),(520,860),(550,860),(580,860),(610,860),(630,875),(400,880),(430,875),(465,875),(490,880),(525,880),(555,885),(590,885),(440,905),(460,900),(520,905),(550,910),(578,915),(620,905),(367,869),(748,852),(992,813),(570,875),(545,870),(450,885),(470,860)]
F6 = [(916,311),(516,361),(416,388),(1003,397),(460,479),(450,520),(473,555),(500,590),(505,660),(620,445),(760,455),(850,490),(685,535),(822,680),(820,715),(855,715),(910,720),(840,745),(880,745),(920,750),(822,765),(860,770),(895,770),(945,775),(840,795),(872,800),(900,810),(855,817),(800,800),(775,820),(785,858),(695,703),(690,745),(563,704),(567,780),(640,745)]
F7 = [(318,530),(650,733),(515,817),(670,973),(488,982),(460,1005),(530,1010),(455,1040),(520,1030),(500,1045),(525,1050),(563,1048),(437,1070),(437,1085),(425,1100),(445,1105),(730,905)]

G0 = [(847,188),(735,225),(755,222),(765,240),(725,250),(715,265),(700,280),(740,280),(770,270),(705,305),(715,330),(710,315),(805,275),(830,270),(795,295),(815,295),(875,280),(860,295),(795,320),(855,320),(850,340),(800,345),(820,350),(810,365),(765,372),(790,380),(885,378),(785,460),(563,500),(557,520),(825,528),(725,682)]
G0 += [(745,232),(720,260),(700,265),(725,235),(770,250),(695,295),(720,335),(790,280),(800,305),(800,335),(830,345),(845,330),(870,300),(885,290),(820,275),(780,375),(800,370),(835,320),(790,300)]
G1 = [(680,450),(665,475),(690,475),(460,610),(445,625),(470,625),(430,640),(455,645),(480,640),(500,645),(440,665),(465,660),(490,660),(425,690),(435,680),(425,710),(490,590),(535,604),(555,590),(570,590),(385,630),(570,630),(580,645),(640,615),(615,650),(635,640),(575,680),(555,700),(710,848)]
G1 += [(450,635),(465,615),(490,635),(510,640),(430,660),(420,670),(450,655),(475,650),(430,700),(440,685),(560,695),(545,705),(590,670),(600,625),(625,650),(650,625),(565,690),(575,625),(675,462)]
G2 = [(590,515),(570,540),(600,530),(655,530),(650,555),(665,570),(620,558),(515,620),(670,710),(700,720),(725,715),(720,745),(735,765),(600,770),(630,775),(660,805),(680,780),(685,835)]
G2 += [(585,530),(610,520),(575,520),(640,520),(665,535),(660,555),(685,710),(660,700),(710,700),(730,700),(715,730),(730,750),(585,765),(615,770),(640,780),(650,810),(670,800),(690,790)]
G3 = [(530,365),(510,372),(457,390),(460,405),(415,420),(405,445),(500,430),(525,435),(558,445),(400,480),(380,520),(475,500),(460,520),(490,520),(470,535),(405,545),(425,570),(430,585),(362,590),(385,618),(515,572),(497,686),(475,725),(465,740),(368,727)]
G3 += [(520,368),(450,395),(470,405),(410,430),(400,455),(510,432),(395,490),(385,505),(470,510),(485,505),(455,505),(480,530),(415,555),(420,580),(435,570),(480,735),(370,590)]
G4 = [(632,228),(527,480),(830,630),(850,640),(855,660),(664,777),(860,875),(885,865),(910,860),(845,880),(875,950),(885,965),(855,990),(830,1000),(800,1010),(850,1020),(815,1030),(785,1045),(760,1050)]
G4 += [(825,620),(840,650),(850,850),(870,865),(895,870),(860,890),(840,870),(880,945),(865,975),(840,995),(815,1005),(795,1020),(835,1025),(860,1005),(800,1040),(775,1050),(780,1055),(905,860)]
G5 = [(345,840),(325,875),(330,895),(290,905),(270,925),(310,925),(335,915),(315,950),(300,965),(225,940),(210,965),(180,995),(205,990),(233,885),(270,890)]
G5 += [(335,860),(315,885),(340,880),(280,915),(300,915),(320,905),(320,930),(290,925),(310,960),(220,955),(195,980),(215,975),(190,1005),(210,1000),(175,1000),(345,830)]
G6 = [(433,441),(738,430),(635,358),(705,520),(740,520),(700,550),(725,545),(690,578),(730,575),(760,520),(790,540),(815,550),(795,575),(820,590),(815,600),(533,636)]
G6 += [(690,560),(715,530),(730,530),(750,530),(720,560),(745,545),(700,580),(720,580),(780,545),(800,550),(785,565),(825,570),(800,590)]
G7 = [(603,290),(600,310),(610,305),(665,300),(670,315),(630,395),(645,415),(670,410),(620,430),(635,440),(615,465),(745,320),(765,310),(855,380),(880,395),(605,560),(875,310)]
G7 += [(590,295),(600,295),(615,295),(660,310),(675,300),(630,415),(650,405),(625,445),(615,450),(755,325),(735,325),(860,395),(865,375)]
G8 = [(1040,745),(1025,760),(1050,745),(995,800),(1015,800),(1010,820),(1005,845),(745,1075),(755,1090),(735,1100)]
G8 += [(1030,745),(1015,770),(1040,755),(985,800),(1005,790),(1015,810),(750,1080),(745,1100),(730,1105),(755,1065)]
G9 = [(300,600),(305,630),(300,665),(513,832),(575,835),(545,865),(575,870),(520,885),(578,965)]
G9 += [(300,615),(310,615),(295,650),(500,830),(560,860),(530,875),(515,890),(580,855),(540,875)]
G10 = [(703,361),(875,345),(765,410),(770,435),(800,425),(830,400),(855,425),(820,440),(800,460),(825,455),(617,508),(815,380)]
G10 += [(790,440),(815,420),(840,410),(795,450),(860,435),(780,425),(805,405),(840,430)]
G11 = [(725,477),(740,477),(872,556),(878,575),(457,786),(320,680),(295,712),(350,685),(350,715),(325,710),(240,995),(265,1010),(290,995)]
G11 += [(310,695),(340,710),(350,700),(305,710),(255,1000),(280,1010),(270,995),(235,1000),(730,480)]
G12 = [(400,790),(385,810),(365,810),(410,815),(380,850),(385,880),(375,895),(395,890),(773,1018),(390,800),(375,825),(385,835),(380,865),(370,880),(390,895)]
G13 = [(910,160),(885,165),(915,175),(875,185),(860,205),(880,215),(850,235),(870,230),(710,243),(900,165),(920,165),(880,175),(860,195),(870,195),(860,220),(845,235),(880,225),(895,160)]
G14 = [(935,880),(960,870),(990,860),(1010,880),(990,900),(965,890),(945,885),(975,880),(1000,880),(925,890),(985,870),(975,900),(1005,870)]
G15 = [(340,975),(340,1000),(345,1020),(310,1038),(360,1040),(335,990),(345,985),(335,1010),(350,1035),(330,1040),(370,1042),(360,1020),(320,1040)]
G16 = [(150,860),(170,853),(220,815),(230,840),(255,865),(145,865),(160,855),(215,825),(225,830),(240,850),(255,870),(240,860)]
G17 = [(245,390),(270,385),(265,410),(275,415),(270,430),(312,355),(603,591),(235,390),(255,390),(280,385),(270,400),(310,360),(320,355),(270,420)]
G18 = [(477,560),(670,855),(695,850),(710,875),(725,880),(720,905),(705,925),(730,925),(725,945),(690,860),(715,890),(720,895),(700,920),(730,915),(715,935),(735,935)]
G19 = [(870,765),(865,790),(870,810),(875,835),(860,770),(880,770),(870,780),(865,800),(880,760)]
G20 = [(225,630),(215,650),(245,640),(215,635),(230,625),(240,635),(210,655)]

panels = [
    dict(clusters=[A0, A1, A2, A3, A4, A5, A6, A7], box=(55.7, 57.7, 414, 406.7), lim=(167, 1242, 1160, 113)),
    dict(clusters=[B0, B1, B2, B3, B4, B5, B6, B7, B8, B9, B10], box=(522.7, 57.7, 881, 406.7), lim=(128, 1203, 1160, 113)),
    dict(clusters=[C0, C1, C2, C3, C4, C5, C6, C7], box=(1002.7, 57.7, 1361, 406.7), lim=(128, 1203, 1160, 113)),
    dict(clusters=[D0, D1, D2, D3, D4, D5, D6, D7], box=(1469.7, 57.7, 1828, 406.7), lim=(89, 1164, 1160, 113)),
    dict(clusters=[E0, E1, E2, E3, E4, E5, E6, E7, E8], box=(271.7, 590.7, 630, 939.3), lim=(125, 1200, 1168, 122)),
    dict(clusters=[F0, F1, F2, F3, F4, F5, F6, F7], box=(739, 585.3, 1097, 935), lim=(117, 1191, 1155, 106)),
    dict(clusters=[G0, G1, G2, G3, G4, G5, G6, G7, G8, G9, G10, G11, G12, G13, G14, G15, G16, G17, G18, G19, G20],
         box=(1205, 585.3, 1564, 935), lim=(101, 1104, 1155, 107), colors=zeileis, ncol=2),
]
caption_pos = [(225, 476), (703, 476), (1179, 476), (1642, 476), (452, 1016), (905, 1016), (1384, 1016)]

fig = plt.figure(figsize=(W / 100, H / 100), dpi=100)

for p in panels:
    x0, y0, x1, y1 = p["box"]
    ax = fig.add_axes([x0 / W, 1 - y1 / H, (x1 - x0) / W, (y1 - y0) / H])
    colors = p.get("colors", vega)
    for i, pts in enumerate(p["clusters"]):
        xs = [q[0] for q in pts]
        ys = [q[1] for q in pts]
        ax.scatter(xs, ys, s=48, c=colors[i], linewidths=0, label=str(i))
    ax.set_xlim(p["lim"][0], p["lim"][1])
    ax.set_ylim(p["lim"][2], p["lim"][3])
    ax.set_xticks([])
    ax.set_yticks([])
    ax.set_xlabel("tSNE1", fontsize=16, labelpad=5)
    ax.set_ylabel("tSNE2", fontsize=16, labelpad=6)
    ax.set_title("louvain", fontsize=16, pad=6.5)
    for s in ax.spines.values():
        s.set_linewidth(1.2)
        s.set_color("#444444")
    ax.legend(loc="center left", bbox_to_anchor=(1, 0.5), frameon=False, fontsize=16,
              ncol=p.get("ncol", 1), markerscale=1.15, scatterpoints=1, handlelength=1,
              handletextpad=0.0, labelspacing=0.45, borderaxespad=0.17, columnspacing=1.6)

for text, (cx, cy) in zip(captions, caption_pos):
    fig.text(cx / W, 1 - cy / H, text, fontsize=36.5, ha="center", va="center")

fig.text(1893 / W, 1 - 1041 / H, "CSDN @学生物信息的小吕", fontsize=14, color="#a8a8a8",
         ha="right", va="center", family=["Liberation Sans", "Noto Sans CJK SC"])

fig.savefig("out.png", dpi=100)
